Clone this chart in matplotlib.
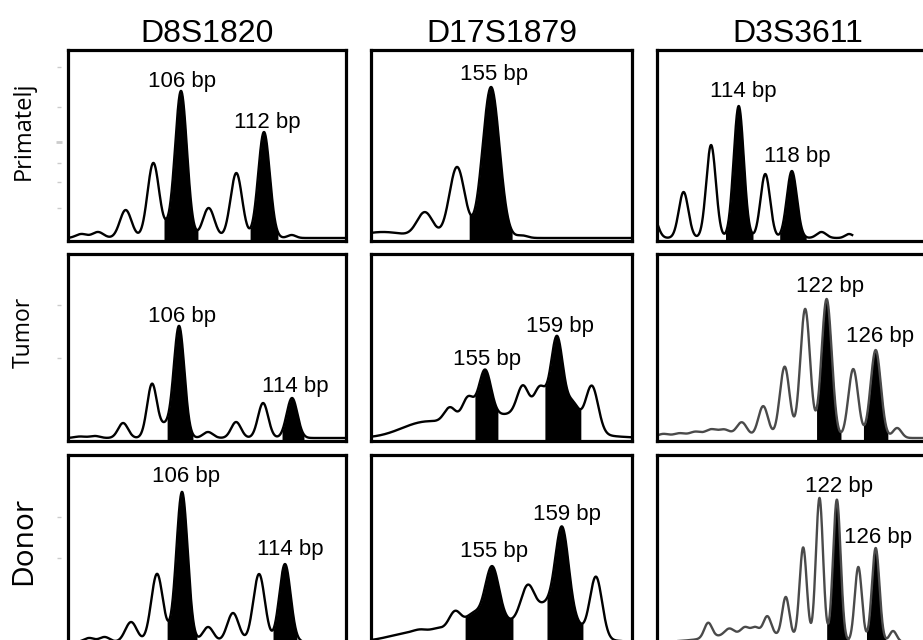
import numpy as np
import matplotlib
matplotlib.use("Agg")
from matplotlib import pyplot as plt

markers = ["D8S1820", "D17S1879", "D3S3611"]
samples = ["Primatelj", "Tumor", "Donor"]

# peaks: centre (bp), height (rfu-ish), width sd (bp)
# filled = called alleles, labels = (text, bp, height of label baseline)

# Primatelj
p_d8_pos = [98.8, 100.0, 102.0, 104.0, 105.0, 106.0, 108.0, 110.0, 112.0, 114.0]
p_d8_h = [4, 6, 28, 75, 6, 147, 30, 65, 106, 3]
p_d8_sd = [0.4, 0.4, 0.42, 0.42, 0.35, 0.43, 0.42, 0.42, 0.42, 0.3]
p_d8_fill = [(104.77, 107.23), (110.99, 113.01)]
p_d8_lab = [("106 bp", 106.07, 151), ("112 bp", 112.22, 110)]

p_d17_pos = [149.0, 151.33, 153.11, 155.0, 156.72]
p_d17_h = [6, 25, 71, 151, 2.5]
p_d17_sd = [1.2, 0.45, 0.43, 0.47, 0.3]
p_d17_fill = [(153.78, 156.17)]
p_d17_lab = [("155 bp", 155.17, 158)]

p_d3_pos = [107.54, 109.85, 111.92, 114.0, 116.0, 118.0, 120.23, 122.31]
p_d3_h = [22, 46, 93, 132, 64, 67, 6, 4]
p_d3_sd = [0.36, 0.36, 0.36, 0.38, 0.36, 0.38, 0.36, 0.3]
p_d3_fill = [(113.0, 115.08), (117.08, 119.08)]
p_d3_lab = [("114 bp", 114.31, 141), ("118 bp", 118.38, 76)]

# Tumor
t_d8_pos = [99.0, 100.05, 102.04, 104.09, 105.0, 106.0, 108.05, 110.04, 111.95, 114.0]
t_d8_h = [1.5, 2, 15, 54, 11, 112, 6, 16, 35, 40]
t_d8_sd = [0.4, 0.35, 0.35, 0.35, 0.35, 0.38, 0.35, 0.35, 0.36, 0.38]
t_d8_fill = [(105.15, 106.99), (113.29, 114.85)]
t_d8_lab = [("106 bp", 106.25, 116), ("114 bp", 114.21, 46)]

t_d17_pos = [151.55, 156.55, 153.06, 154.06, 155.0, 157.11, 158.06, 159.0, 159.89, 160.94]
t_d17_h = [13, 24, 15, 24, 48, 29, 30, 86, 24, 47]
t_d17_sd = [1.3, 2.5, 0.32, 0.32, 0.34, 0.32, 0.32, 0.34, 0.35, 0.35]
t_d17_fill = [(154.44, 155.72), (158.33, 160.33)]
t_d17_lab = [("155 bp", 155.14, 73), ("159 bp", 159.17, 106)]

t_d3_pos = [112.5, 108.67, 110.0, 111.3, 112.58, 113.67, 115.08, 116.83, 118.58, 120.25, 122.0, 124.17, 126.0, 127.75]
t_d3_h = [2.5, 3, 3, 4, 6, 6, 14, 31, 71, 129, 139, 69, 88, 10]
t_d3_sd = [3.0, 0.45, 0.45, 0.45, 0.45, 0.45, 0.42, 0.4, 0.4, 0.4, 0.42, 0.4, 0.42, 0.35]
t_d3_fill = [(121.17, 123.17), (125.0, 127.0)]
t_d3_lab = [("122 bp", 122.25, 146), ("126 bp", 126.33, 96)]

# Donor
d_d8_pos = [98.8, 100.0, 102.05, 104.06, 105.0, 106.0, 108.02, 109.95, 111.97, 113.98]
d_d8_h = [4, 5, 20, 68, 3, 150, 15, 29, 68, 78]
d_d8_sd = [0.4, 0.4, 0.45, 0.45, 0.4, 0.44, 0.42, 0.45, 0.45, 0.44]
d_d8_fill = [(104.84, 107.16), (113.05, 114.91)]
d_d8_lab = [("106 bp", 106.31, 160), ("114 bp", 114.37, 87)]

d_d17_pos = [150.5, 156.0, 150.89, 151.91, 152.89, 153.91, 155.0, 157.06, 158.03, 159.0, 159.9, 160.94]
d_d17_h = [8, 20, 2, 3, 19, 13, 57, 38, 19, 104, 8, 62]
d_d17_sd = [1.4, 2.6, 0.35, 0.35, 0.35, 0.4, 0.4, 0.4, 0.4, 0.4, 0.35, 0.35]
d_d17_fill = [(153.46, 156.2), (158.14, 160.2)]
d_d17_lab = [("155 bp", 155.11, 85), ("159 bp", 159.29, 122)]

d_d3_pos = [113.0, 108.74, 110.9, 112.53, 113.58, 114.84, 116.74, 118.53, 120.21, 122.0, 124.21, 126.0, 127.79]
d_d3_h = [9, 15, 6, 6, 6, 18, 40, 92, 143, 142, 75, 94, 11]
d_d3_sd = [3.5, 0.4, 0.45, 0.4, 0.4, 0.4, 0.37, 0.37, 0.37, 0.39, 0.37, 0.39, 0.37]
d_d3_fill = [(120.95, 123.26), (125.05, 127.05)]
d_d3_lab = [("122 bp", 122.21, 150), ("126 bp", 126.21, 99)]

# size range shown in each panel (bp)
x_range = [
    [(97.83, 117.93), (148.33, 162.83), (107.85, 129.0)],
    [(98.14, 117.82), (148.67, 163.17), (108.17, 131.08)],
    [(97.16, 118.71), (148.09, 163.0), (103.47, 132.42)],
]
trace_end = {(0, 2): 122.54}   # the primatelj D3S3611 scan stops early

panels = [
    [(p_d8_pos, p_d8_h, p_d8_sd, p_d8_fill, p_d8_lab),
     (p_d17_pos, p_d17_h, p_d17_sd, p_d17_fill, p_d17_lab),
     (p_d3_pos, p_d3_h, p_d3_sd, p_d3_fill, p_d3_lab)],
    [(t_d8_pos, t_d8_h, t_d8_sd, t_d8_fill, t_d8_lab),
     (t_d17_pos, t_d17_h, t_d17_sd, t_d17_fill, t_d17_lab),
     (t_d3_pos, t_d3_h, t_d3_sd, t_d3_fill, t_d3_lab)],
    [(d_d8_pos, d_d8_h, d_d8_sd, d_d8_fill, d_d8_lab),
     (d_d17_pos, d_d17_h, d_d17_sd, d_d17_fill, d_d17_lab),
     (d_d3_pos, d_d3_h, d_d3_sd, d_d3_fill, d_d3_lab)],
]

# faint scale marks left of the first column
side_ticks = [[171, 131, 96, 75, 56, 30], [133, 80], [125, 84]]


def trace(x, pos, h, sd):
    y = np.zeros_like(x)
    for p, a, s in zip(pos, h, sd):
        y += a * np.exp(-0.5 * ((x - p) / s) ** 2)
    return y


# layout in pixels of the 923x640 figure
W, H = 923, 640
cols = [(68, 346), (371, 632), (657, 938)]
rows = [(50, 241), (254, 441), (455, 645)]
label_y = [131, 332, 541]
label_size = [17, 16.5, 21.5]

fig = plt.figure(figsize=(W / 100, H / 100), dpi=100)

for r in range(3):
    y0, y1 = rows[r]
    for c in range(3):
        x0, x1 = cols[c]
        ax = fig.add_axes([x0 / W, 1 - y1 / H, (x1 - x0) / W, (y1 - y0) / H])
        pos, h, sd, fills, labs = panels[r][c]
        lo, hi = x_range[r][c]
        ybot = -3
        x = np.linspace(lo, trace_end.get((r, c), hi), 2500)
        y = trace(x, pos, h, sd)
        col = "#4a4a4a" if (c == 2 and r > 0) else "black"
        ax.plot(x, y, color=col, lw=1.7, solid_joinstyle="round")
        for a, b in fills:
            m = (x >= a) & (x <= b)
            ax.fill_between(x[m], ybot, y[m], color="black", lw=0)
        for s, xb, yb in labs:
            ax.text(xb, yb, s, ha="center", va="baseline", fontsize=16,
                    family="Liberation Sans")
        ax.set_xlim(lo, hi)
        ax.set_ylim(ybot, (y1 - y0) + ybot)
        ax.set_xticks([])
        ax.set_yticks([])
        for sp in ax.spines.values():
            sp.set_linewidth(2.3)
        if r == 0:
            ax.set_title(markers[c], fontsize=23, family="Liberation Sans", pad=5.8)
        if c == 0:
            sec = ax.secondary_yaxis(-9 / (x1 - x0))
            sec.set_yticks(side_ticks[r])
            sec.set_yticklabels([])
            sec.spines["left"].set_visible(False)
            sec.tick_params(length=3, width=1, color="#cccccc", direction="inout")
            if r == 0:
                t = sec.yaxis.get_major_ticks()[2]
                t.tick1line.set_color("#222222")
                t.tick1line.set_markersize(5)
                t.tick1line.set_markeredgewidth(2)

    fig.text(24 / W, 1 - label_y[r] / H, samples[r], rotation=90, ha="center",
             va="center", fontsize=label_size[r], family="Open Sans")

fig.savefig("out.png", dpi=100)
